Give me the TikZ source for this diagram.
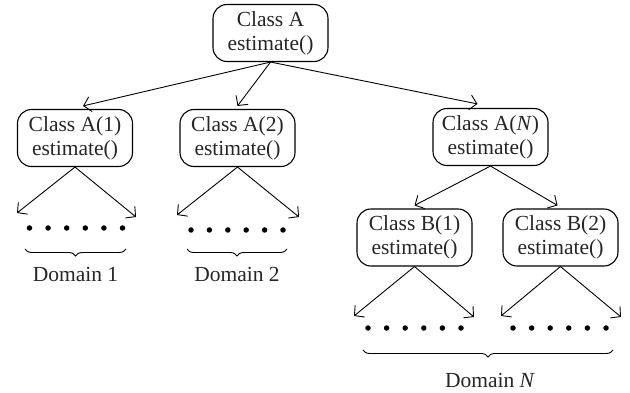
\documentclass[tikz,border=0pt]{standalone}
\usepackage{fontspec}
\setmainfont{Liberation Serif}
\usetikzlibrary{arrows.meta,decorations.pathreplacing}
\begin{document}
\begin{tikzpicture}[x=1pt,y=-1pt,
  cls/.style={draw, line width=1.1pt, rounded corners=14pt, minimum width=115pt, minimum height=57pt,
    align=center, inner sep=0pt, font=\fontsize{21.5}{24}\selectfont, text=black!85},
  arr/.style={line width=0.9pt, -{Straight Barb[length=7pt,width=15pt,line width=0.9pt]}},
  brc/.style={decorate, decoration={brace, mirror, amplitude=7pt}, line width=0.9pt},
  dom/.style={font=\fontsize{21.5}{24}\selectfont, text=black!85},
  dt/.style={circle, fill=black, inner sep=0pt, minimum size=5.5pt}]
\useasboundingbox (0,0) rectangle (630,393);
% boxes
\node[cls] (root) at (270.5,33) {Class A\\estimate()};
\node[cls] (a1) at (75,138) {Class A(1)\\estimate()};
\node[cls] (a2) at (237.5,138) {Class A(2)\\estimate()};
\node[cls] (an) at (490.5,137) {Class A(\textit{N})\\estimate()};
\node[cls] (b1) at (414.5,237.5) {Class B(1)\\estimate()};
\node[cls] (b2) at (560.5,237.5) {Class B(2)\\estimate()};
% top-level arrows
\draw[arr] (root.south) -- ([xshift=8pt,yshift=3pt]a1.north);
\draw[arr] (root.south) -- ([yshift=3pt]a2.north);
\draw[arr] (root.south) -- ([xshift=-13pt,yshift=4pt]an.north);
\draw[arr] (an.south) -- ([yshift=3pt]b1.north);
\draw[arr] (an.south) -- ([xshift=-3pt,yshift=3pt]b2.north);
% free ends
\coordinate (a1l) at (17,213);
\coordinate (a1r) at (136,217);
\coordinate (a2l) at (177,215);
\coordinate (a2r) at (299,217);
\coordinate (b1l) at (354,316);
\coordinate (b1r) at (474,317);
\coordinate (b2l) at (501,316);
\coordinate (b2r) at (621,317);
\draw[arr] (a1.south) -- (a1l);
\draw[arr] (a1.south) -- (a1r);
\draw[arr] (a2.south) -- (a2l);
\draw[arr] (a2.south) -- (a2r);
\draw[arr] (b1.south) -- (b1l);
\draw[arr] (b1.south) -- (b1r);
\draw[arr] (b2.south) -- (b2l);
\draw[arr] (b2.south) -- (b2r);
% dots
\foreach \i in {0,...,5} {
  \node[dt] (d1\i) at (29.5+18.6*\i,228) {};
  \node[dt] (d2\i) at (191+18.4*\i,230) {};
  \node[dt] (d3\i) at (368+18.6*\i,328) {};
  \node[dt] (d4\i) at (513+18.6*\i,328) {};
}
% braces
\coordinate (br1a) at (25,249);
\coordinate (br1b) at (126,249);
\coordinate (br2a) at (187,249);
\coordinate (br2b) at (287,249);
\coordinate (br3a) at (363,350);
\coordinate (br3b) at (613,350);
\draw[brc] (br1a) -- (br1b);
\draw[brc] (br2a) -- (br2b);
\draw[brc] (br3a) -- (br3b);
\node[dom] (l1) at (75.5,274) {Domain 1};
\node[dom] (l2) at (237,274) {Domain 2};
\node[dom] (l3) at (490,380) {Domain \textit{N}};
\end{tikzpicture}
\end{document}
